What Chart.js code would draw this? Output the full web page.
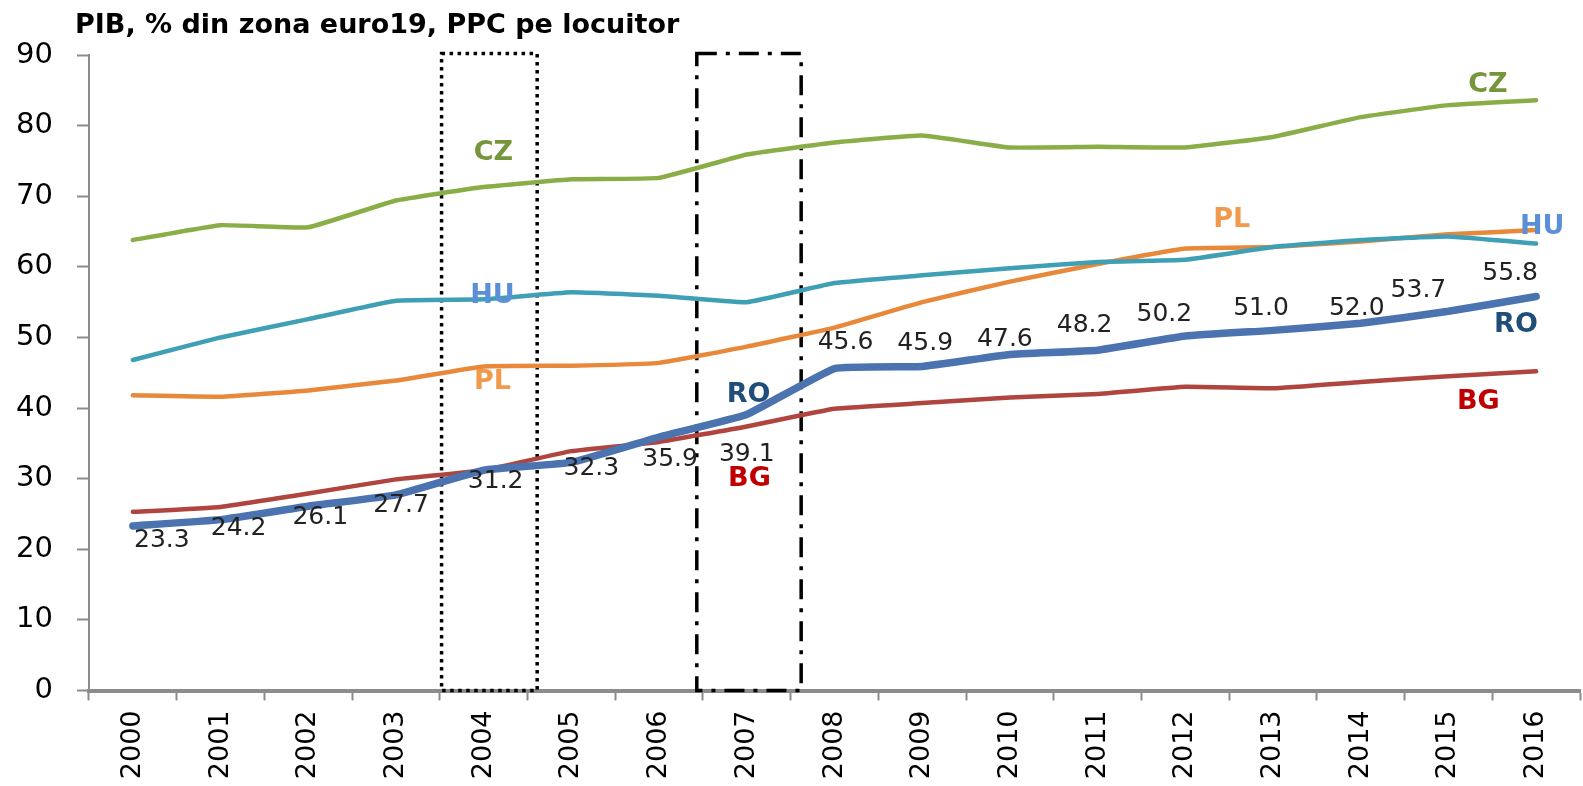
<!DOCTYPE html>
<html>
<head>
<meta charset="utf-8">
<script src="https://cdn.jsdelivr.net/npm/chart.js@4/dist/chart.umd.min.js"></script>
<style>
  html, body { margin: 0; padding: 0; background: #fff; }
  #wrap { width: 1583px; height: 786px; }
</style>
</head>
<body>
<div id="wrap"><canvas id="lineChart" width="1583" height="786"></canvas></div>
<script>
// Chart data
const title = "PIB, % din zona euro19, PPC pe locuitor";
const years = ["2000", "2001", "2002", "2003", "2004", "2005", "2006", "2007", "2008",
  "2009", "2010", "2011", "2012", "2013", "2014", "2015", "2016"];

const czValues = [63.8, 65.9, 65.6, 69.4, 71.3, 72.4, 72.6, 75.9, 77.6, 78.6, 76.9, 77.0, 76.9, 78.4, 81.2, 82.9, 83.6];
const huValues = [46.8, 50.0, 52.6, 55.2, 55.4, 56.4, 55.9, 55.0, 57.7, 58.8, 59.8, 60.7, 61.0, 62.8, 63.8, 64.3, 63.3];
const plValues = [41.8, 41.6, 42.5, 43.9, 45.9, 46.0, 46.4, 48.7, 51.4, 55.0, 57.9, 60.4, 62.6, 62.8, 63.6, 64.6, 65.2];
const roValues = [23.3, 24.2, 26.1, 27.7, 31.2, 32.3, 35.9, 39.1, 45.6, 45.9, 47.6, 48.2, 50.2, 51.0, 52.0, 53.7, 55.8];
const bgValues = [25.3, 26.0, 27.9, 29.9, 31.2, 33.9, 35.2, 37.4, 39.9, 40.7, 41.5, 42.0, 43.0, 42.8, 43.7, 44.5, 45.2];

// Series name labels placed on the chart (x = category index, y = value)
const seriesNames = ["CZ", "CZ", "HU", "HU", "PL", "PL", "RO", "RO", "BG", "BG"];
const nameX = [4.11, 15.45, 4.1, 16.07, 4.1, 12.53, 7.02, 15.77, 7.03, 15.34];
const nameY = [76.1, 85.7, 55.9, 65.6, 43.7, 66.7, 41.9, 51.8, 29.9, 40.8];

// Highlight boxes around 2004 and 2007 (category index ranges)
const boxFrom = [3.52, 6.43];
const boxTo = [4.61, 7.62];

// RO value label offsets (px) relative to each point
const roLabelDx = [29, 18, 12, 5, 12, 20, 11, 0, 11, 3, -5, -13, -21, -12, -4, -30, -26];
const roLabelDy = [15, 9, 11, 11, 11, 6, 22, 40, -26, -23, -15, -25, -22, -22, -15, -21, -23];

const nameColors = { CZ: "#77953a", HU: "#5b8fd8", PL: "#f19a4c", RO: "#1f4e79", BG: "#c00000" };
const FONT = "'DejaVu Sans', 'Noto Sans', sans-serif";

/**
 * Draws title, highlight boxes, series names and RO values
 */
const annotations = {
  id: "annotations",
  beforeDatasetsDraw(chart) {
    const { ctx, scales } = chart;
    const x = scales.x;
    const y = scales.y;
    ctx.save();
    ctx.strokeStyle = "#000";
    ctx.lineWidth = 3.5;
    ctx.lineCap = "butt";
    const dashes = [[3.5, 4.5], [20, 9, 4, 9]];
    boxFrom.forEach((from, i) => {
      const l = x.getPixelForValue(from);
      const r = x.getPixelForValue(boxTo[i]);
      const t = y.getPixelForValue(90.2);
      const b = y.getPixelForValue(0);
      ctx.setLineDash(dashes[i]);
      ctx.strokeRect(l, t, r - l, b - t);
    });
    ctx.restore();
  },
  afterDatasetsDraw(chart) {
    const { ctx, scales } = chart;
    const x = scales.x;
    const y = scales.y;
    ctx.save();

    // Title
    ctx.fillStyle = "#000";
    ctx.font = "bold 27px " + FONT;
    ctx.textAlign = "left";
    ctx.textBaseline = "alphabetic";
    ctx.fillText(title, 75, 33);

    // Series names
    ctx.font = "bold 27px " + FONT;
    ctx.textAlign = "center";
    ctx.textBaseline = "middle";
    seriesNames.forEach((name, i) => {
      ctx.fillStyle = nameColors[name];
      ctx.fillText(name, x.getPixelForValue(nameX[i]), y.getPixelForValue(nameY[i]));
    });

    // RO value labels
    ctx.font = "25px " + FONT;
    ctx.fillStyle = "#222";
    const meta = chart.getDatasetMeta(3);
    meta.data.forEach((pt, i) => {
      ctx.fillText(roValues[i].toFixed(1), pt.x + roLabelDx[i], pt.y + roLabelDy[i]);
    });
    ctx.restore();
  },
};

function lineSet(label, data, color, width) {
  return {
    label,
    data,
    borderColor: color,
    backgroundColor: color,
    borderWidth: width,
    pointRadius: 0,
    tension: 0.1,
    borderJoinStyle: "round",
    borderCapStyle: "round",
    fill: false,
  };
}

new Chart(document.getElementById("lineChart").getContext("2d"), {
  type: "line",
  data: {
    labels: years,
    datasets: [
      lineSet("CZ", czValues, "#8aae47", 4.5),
      lineSet("HU", huValues, "#3e9fb5", 4.5),
      lineSet("PL", plValues, "#e8883a", 4.5),
      lineSet("RO", roValues, "#4a73b0", 7.5),
      lineSet("BG", bgValues, "#b0443f", 4.5),
    ],
  },
  options: {
    responsive: false,
    animation: false,
    layout: { padding: { top: 55, right: 3, left: 0, bottom: 0 } },
    plugins: {
      legend: { display: false },
      tooltip: { enabled: false },
    },
    scales: {
      x: {
        offset: true,
        grid: {
          offset: true,
          drawOnChartArea: false,
          drawTicks: true,
          tickLength: 10,
          tickWidth: 2,
          tickColor: "#8c8c8c",
        },
        border: { color: "#8c8c8c", width: 4 },
        ticks: {
          color: "#000",
          font: { family: FONT, size: 27 },
          minRotation: 90,
          maxRotation: 90,
          padding: 10,
          autoSkip: false,
        },
        afterFit(scale) { scale.height = 95.5; },
      },
      y: {
        min: 0,
        max: 90,
        grid: {
          drawOnChartArea: false,
          drawTicks: true,
          tickLength: 12,
          tickWidth: 2,
          tickColor: "#8c8c8c",
        },
        border: { color: "#8c8c8c", width: 2 },
        ticks: {
          stepSize: 10,
          color: "#000",
          font: { family: FONT, size: 29 },
          padding: 24,
        },
        afterFit(scale) { scale.width = 89; },
      },
    },
  },
  plugins: [annotations],
});
</script>
</body>
</html>
